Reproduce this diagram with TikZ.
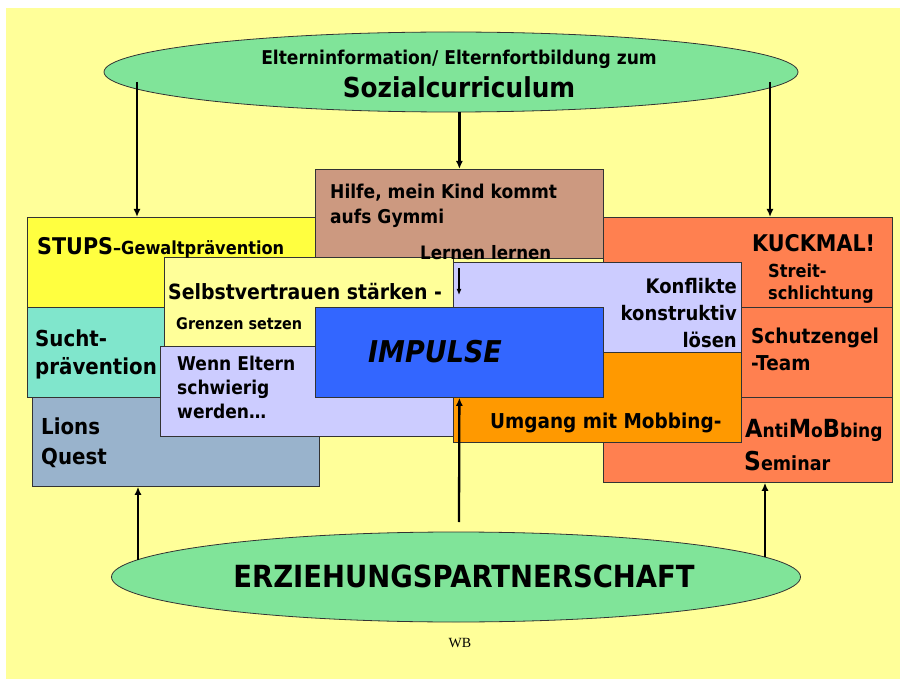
\documentclass[tikz,border=0pt]{standalone}
\usepackage{fontspec}
\newfontfamily\comicfont{DejaVu Sans}[FakeStretch=0.9]
\newfontfamily\wbfont{Liberation Serif}
\usetikzlibrary{arrows.meta, positioning, shapes.geometric}

\definecolor{slidebg}{RGB}{255,255,153}
\definecolor{ovalgreen}{RGB}{128,228,153}
\definecolor{stupsyellow}{RGB}{255,255,64}
\definecolor{suchtteal}{RGB}{128,230,204}
\definecolor{lionsblue}{RGB}{153,179,204}
\definecolor{palelilac}{RGB}{204,204,255}
\definecolor{gymbrown}{RGB}{204,153,128}
\definecolor{impulseblue}{RGB}{51,102,255}
\definecolor{mobborange}{RGB}{255,153,0}
\definecolor{kuckred}{RGB}{255,128,80}

\newcommand{\px}[1]{\fontsize{#1pt}{#1pt}\selectfont}

\tikzset{
  box/.style={draw=black!80, line width=0.8pt, rectangle, inner sep=0pt, anchor=north west},
  oval/.style={draw=black!80, line width=0.8pt, ellipse, fill=ovalgreen, inner sep=0pt},
  lbl/.style={inner sep=0pt, font=\comicfont\bfseries},
  sz/.style 2 args={font=\comicfont\bfseries\fontsize{#1pt}{#2pt}\selectfont},
  arr/.style={line width=2.3pt, -{Latex[length=8pt,width=7pt]}},
}

\begin{document}
\begin{tikzpicture}[x=1pt, y=-1pt]
\useasboundingbox (0,0) rectangle (900,679);
\fill[slidebg] (6,8) rectangle (900,679);

% ovals
\node[oval, minimum width=694pt, minimum height=80pt] (eltern) at (451,72) {};
\node[oval, minimum width=689pt, minimum height=90pt] (partner) at (456,577) {};
\node[lbl, anchor=base] (elterntxt) at (459,65) {\px{19}Elterninformation/ Elternfortbildung zum};
\node[lbl, anchor=base] (sozial) at (459,98) {\px{27.5}Sozialcurriculum};
\node[lbl, anchor=base] (partnertxt) at (464,587) {\px{30.5}ERZIEHUNGSPARTNERSCHAFT};

% boxes, back to front
\node[box, fill=stupsyellow, minimum width=293pt, minimum height=90pt] (stups) at (27,217) {};
\node[box, fill=suchtteal, minimum width=140pt, minimum height=90pt] (sucht) at (27,307) {};
\node[box, fill=lionsblue, minimum width=287pt, minimum height=89pt] (lions) at (32,397) {};
\node[box, fill=kuckred, minimum width=289pt, minimum height=90pt] (kuck) at (603,217) {};
\node[box, fill=kuckred, minimum width=151pt, minimum height=90pt] (schutz) at (741,307) {};
\node[box, fill=kuckred, minimum width=289pt, minimum height=85pt] (anti) at (603,397) {};
\node[box, fill=gymbrown, minimum width=288pt, minimum height=89pt] (gymmi) at (315,169) {};
\node[box, fill=slidebg, minimum width=289pt, minimum height=89pt] (selbst) at (164,257) {};
\node[box, fill=palelilac, minimum width=293pt, minimum height=90pt] (eltbox) at (160,346) {};
\node[box, fill=palelilac, minimum width=288pt, minimum height=90pt] (konf) at (453,262) {};
\node[box, fill=mobborange, minimum width=288pt, minimum height=90pt] (mobb) at (453,352) {};
\node[box, fill=impulseblue, minimum width=288pt, minimum height=90pt] (impulse) at (315,307) {};

% texts
\node[lbl, anchor=base west] (stupstxt) at (37,255) {\px{23}STUPS\px{18}–Gewaltprävention};
\node[lbl, sz={22}{28}, anchor=north west, align=left] (suchttxt) at (35,330) {Sucht-\\prävention};
\node[lbl, sz={22}{30}, anchor=north west, align=left] (lionstxt) at (41,418) {Lions\\Quest};
\node[lbl, sz={19}{25}, anchor=north west, align=left] (gymtxt) at (330,184) {Hilfe, mein Kind kommt\\aufs Gymmi};
\node[lbl, anchor=base west] (lernen) at (420,260) {\px{18.5}Lernen lernen};
\node[lbl, anchor=base west] (selbsttxt) at (168,299) {\px{21}Selbstvertrauen stärken -};
\node[lbl, anchor=base west] (grenzen) at (176,330) {\px{16}Grenzen setzen};
\node[lbl, sz={19}{24}, anchor=north west, align=left] (elttxt) at (177,356) {Wenn Eltern\\schwierig\\werden…};
\node[lbl, anchor=base west] (impulsetxt) at (368,362) {\px{30}\itshape IMPULSE};
\node[lbl, sz={20}{27}, anchor=north east, align=right] (konftxt) at (737,278) {Konflikte\\konstruktiv\\lösen};
\node[lbl, anchor=base west] (mobbtxt) at (490,428) {\px{20.5}Umgang mit Mobbing-};
\node[lbl, anchor=base west] (kucktxt) at (752,252) {\px{23}KUCKMAL!};
\node[lbl, sz={18}{22}, anchor=north west, align=left] (streit) at (768,264) {Streit-\\schlichtung};
\node[lbl, sz={20.5}{27}, anchor=north west, align=left] (schutztxt) at (751,328) {Schutzengel\\-Team};
\node[lbl, anchor=base west] (antitxt) at (745,437) {\px{25}A\px{19}nti\px{25}M\px{19}o\px{25}B\px{19}bing};
\node[lbl, anchor=base west] (seminar) at (744,470) {\px{26}S\px{19.5}eminar};
\node[inner sep=0pt, anchor=base, font=\wbfont] (wb) at (460,647) {\px{14}WB};

% connectors
\coordinate (tl) at (137,82);
\coordinate (tr) at (770,82);
\coordinate (bl) at (138,560);
\coordinate (br) at (765,557);
\coordinate (bc) at (459,522);
\coordinate (ls) at (459,268);
\draw[arr] (tl) -- (tl |- stups.north);
\draw[arr] (tr) -- (tr |- kuck.north);
\draw[arr] (eltern.south -| gymmi.north) -- (gymmi.north);
\draw[arr] (bl) -- (bl |- lions.south);
\draw[arr] (br) -- (br |- anti.south);
\draw[arr] (bc) -- (impulse.south);
\draw[line width=1.4pt, -{Latex[length=6pt,width=5pt]}] (ls) -- ++(0,27);
\end{tikzpicture}
\end{document}
